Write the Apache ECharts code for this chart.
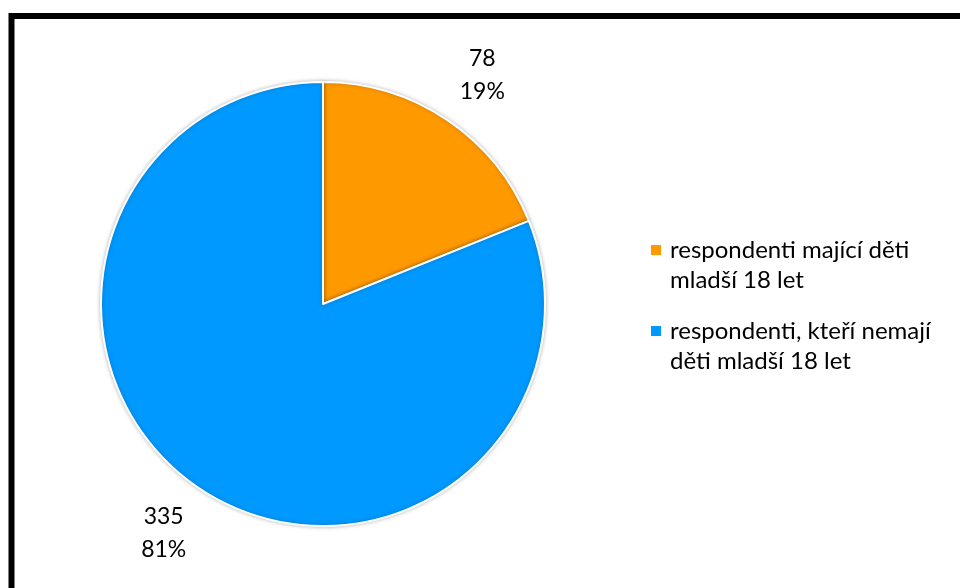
<!DOCTYPE html>
<html>
<head>
<meta charset="utf-8">
<script src="https://cdn.jsdelivr.net/npm/echarts@6/dist/echarts.min.js"></script>
<style>
  html, body { margin: 0; padding: 0; background: #fff; }
  #chart { width: 960px; height: 588px; }
</style>
</head>
<body>
<div id="chart"></div>
<script>
// data
const categories = [
  "respondenti mající děti mladší 18 let",
  "respondenti, kteří nemají děti mladší 18 let",
];
const legendLines = [
  ["respondenti mající děti", "mladší 18 let"],
  ["respondenti, kteří nemají", "děti mladší 18 let"],
];
const counts = [78, 335];
const colors = ["#FF9900", "#0099FF"];

const font = "Lato, 'Noto Sans', sans-serif";
const chart = echarts.init(document.getElementById("chart"));

// one legend per item, so the square sits next to the first line of text
function makeLegend(i, top) {
  return {
    data: [categories[i]],
    left: 651,
    top: top,
    orient: "vertical",
    icon: "rect",
    itemWidth: 10,
    itemHeight: 10,
    itemGap: 0,
    padding: 0,
    selectedMode: false,
    itemStyle: { borderWidth: 0, shadowBlur: 0 },
    // leading blank line keeps the icon level with the first text line
    formatter: () => "\n" + legendLines[i].join("\n"),
    textStyle: {
      fontFamily: font,
      fontSize: 24,
      lineHeight: 30,
      color: "#000",
      padding: [0, 0, 0, 4],
    },
  };
}

const option = {
  animation: false,
  color: colors,
  graphic: [
    {
      type: "rect",
      shape: { x: 11.5, y: 16, width: 2000, height: 2000 },
      style: { fill: "none", stroke: "#000", lineWidth: 6 },
      z: 100,
    },
  ],
  legend: [makeLegend(0, 205), makeLegend(1, 286)],
  series: [
    {
      type: "pie",
      center: [323, 304],
      radius: 222,
      startAngle: 90,
      clockwise: true,
      data: categories.map((name, i) => ({ name: name, value: counts[i] })),
      itemStyle: {
        borderColor: "#fff",
        borderWidth: 2,
        shadowBlur: 4,
        shadowColor: "rgba(0,0,0,0.25)",
      },
      label: {
        show: true,
        position: "outside",
        fontFamily: font,
        fontSize: 23,
        lineHeight: 33,
        color: "#000",
        formatter: (p) => p.value + "\n" + Math.round(p.percent) + "%",
      },
      labelLine: { show: false, length: 54, length2: 0 },
      labelLayout: () => ({ align: "center", verticalAlign: "middle" }),
      emphasis: { disabled: true },
    },
  ],
};
chart.setOption(option);
</script>
</body>
</html>
